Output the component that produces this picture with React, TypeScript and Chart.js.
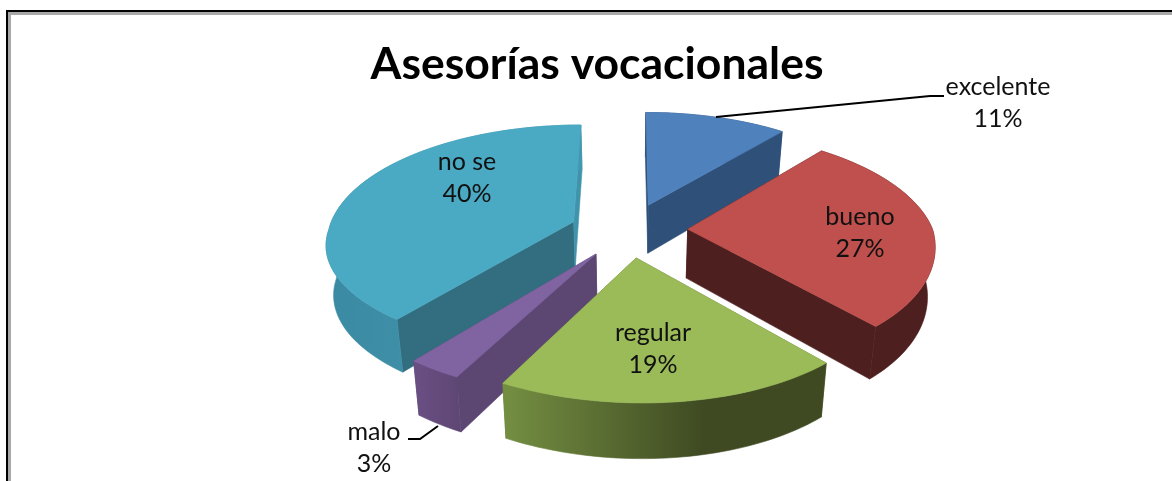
import React, { useEffect, useRef } from "react";
import { Chart, registerables } from "chart.js";

Chart.register(...registerables);

const titleText = "Asesorías vocacionales";
const categories = ["excelente", "bueno", "regular", "malo", "no se"];
const values = [11, 27, 19, 3, 40];
const topColors = ["#4f81bd", "#c0504d", "#9bbb59", "#8064a2", "#4aa9c3"];
const startWallColors = ["#2f5078", "#4e1f1f", "#5d7534", "#5c4672", "#326e80"];
const endWallColors = ["#2f5078", "#4e1f1f", "#5d7534", "#5c4672", "#3f93ab"];
const outerWallLeft = ["#2f5078", "#4e1f1f", "#748f42", "#6a4f84", "#3b8aa3"];
const outerWallRight = ["#2f5078", "#4e1f1f", "#3f4a22", "#5f4775", "#4298ae"];

// projection of the flat pie into the tilted view
const VIEW = { cx: 629, cy: 230, a: 245, b: 113.5, p: 0.15, lean: 10, tilt: 7, explode: 0.24, depth: 49, depthGrow: 0.6, depthShrink: 0.975 };

// text placement
const LABEL_AT = [
  [998, 103],
  [860, 233],
  [653, 349],
  [374, 448],
  [467, 178],
];
const LEADERS = [
  [[716, 117], [930, 96], [944, 96]],
  [[408, 439], [420, 439], [438, 426]],
];
const LABEL_FONT = "25px Lato";
const LABEL_LINE = 32;

function project(u: number, v: number, low: boolean) {
  const s = 1 / (1 - VIEW.p * v);
  const near = Math.max(v, 0);
  const shrink = low ? VIEW.depthShrink : 1;
  const x = VIEW.cx + (VIEW.a * u * s - VIEW.lean * near) * shrink;
  const y =
    VIEW.cy + VIEW.b * v * s + VIEW.tilt * u * near +
    (low ? VIEW.depth * (1 + VIEW.depthGrow * (s - 1)) : 0);
  return [x, y];
}

function tracePoly(ctx: CanvasRenderingContext2D, pts: number[][]) {
  ctx.beginPath();
  pts.forEach((p, i) => (i ? ctx.lineTo(p[0], p[1]) : ctx.moveTo(p[0], p[1])));
  ctx.closePath();
}

const pie3d = {
  id: "pie3d",
  beforeDatasetsDraw(chart: any) {
    const ctx: CanvasRenderingContext2D = chart.ctx;
    const arcs = chart.getDatasetMeta(0).data.map((el: any, i: number) => {
      const { startAngle, endAngle } = el.getProps(["startAngle", "endAngle"], true);
      const mid = (startAngle + endAngle) / 2;
      return { i, startAngle, endAngle, mid, fill: el.options.backgroundColor };
    });
    arcs.sort((m: any, n: any) => Math.sin(m.mid) - Math.sin(n.mid));
    ctx.save();
    ctx.lineJoin = "round";
    for (const arc of arcs) {
      const ou = Math.cos(arc.mid) * VIEW.explode;
      const ov = Math.sin(arc.mid) * VIEW.explode;
      const steps = Math.max(8, Math.ceil((arc.endAngle - arc.startAngle) * 40));
      const rim: number[][] = [];
      for (let k = 0; k <= steps; k++) {
        const t = arc.startAngle + ((arc.endAngle - arc.startAngle) * k) / steps;
        rim.push([ou + Math.cos(t), ov + Math.sin(t)]);
      }
      const up = rim.map((r) => project(r[0], r[1], false));
      const down = rim.map((r) => project(r[0], r[1], true));
      const apexUp = project(ou, ov, false);
      const apexDown = project(ou, ov, true);

      const paint = (pts: number[][], c: any) => {
        tracePoly(ctx, pts);
        ctx.fillStyle = c;
        ctx.strokeStyle = c;
        ctx.lineWidth = 0.6;
        ctx.fill();
        ctx.stroke();
      };
      paint([apexUp, up[0], down[0], apexDown], startWallColors[arc.i]);
      paint([apexUp, up[steps], down[steps], apexDown], endWallColors[arc.i]);
      const xs = up.map((p) => p[0]);
      const grad = ctx.createLinearGradient(Math.min(...xs), 0, Math.max(...xs), 0);
      grad.addColorStop(0, outerWallLeft[arc.i]);
      grad.addColorStop(arc.i === 2 ? 0.62 : 1, outerWallRight[arc.i]);
      grad.addColorStop(1, outerWallRight[arc.i]);
      paint([...up, ...down.slice().reverse()], grad);
      paint([apexUp, ...up], arc.fill);
    }
    ctx.restore();
    return false;
  },
  afterDraw(chart: any) {
    const ctx: CanvasRenderingContext2D = chart.ctx;
    const total = values.reduce((m, n) => m + n, 0);
    ctx.save();
    ctx.strokeStyle = "#000000";
    ctx.lineWidth = 2;
    for (const line of LEADERS) {
      ctx.beginPath();
      line.forEach((p, i) => (i ? ctx.lineTo(p[0], p[1]) : ctx.moveTo(p[0], p[1])));
      ctx.stroke();
    }
    ctx.fillStyle = "#111111";
    ctx.font = LABEL_FONT;
    ctx.textAlign = "center";
    ctx.textBaseline = "middle";
    categories.forEach((name, i) => {
      const [x, y] = LABEL_AT[i];
      ctx.fillText(name, x, y - LABEL_LINE / 2);
      ctx.fillText(`${Math.round((values[i] / total) * 100)}%`, x, y + LABEL_LINE / 2);
    });
    ctx.restore();
  },
};

export default function App() {
  const ref = useRef<HTMLCanvasElement>(null);
  useEffect(() => {
    const chart = new Chart(ref.current!, {
      type: "pie",
      data: {
        labels: categories,
        datasets: [{ data: values, backgroundColor: topColors, borderWidth: 0 }],
      },
      options: {
        responsive: false,
        animation: false,
        layout: { padding: { left: 22 } },
        plugins: {
          legend: { display: false },
          tooltip: { enabled: false },
          title: {
            display: true,
            text: titleText,
            fullSize: false,
            color: "#000000",
            font: { family: "Lato", size: 44.5, weight: "bold" },
            padding: { top: 38, bottom: 10 },
          },
        },
      },
      plugins: [pie3d],
    } as any);
    return () => chart.destroy();
  }, []);
  return (
    <div style={{ position: "absolute", left: 0, top: 0, width: 1172, height: 481, overflow: "hidden", background: "#ffffff" }}>
      <div style={{ position: "absolute", left: 6, top: 10, width: 1300, height: 600, borderTop: "2px solid #000", borderLeft: "2px solid #000" }}>
        <div style={{ position: "absolute", left: 0, top: 0, width: 1300, height: 600, borderTop: "3px solid #a8a8a8", borderLeft: "3px solid #a8a8a8" }} />
      </div>
      <canvas ref={ref} width={1172} height={481} style={{ position: "absolute", left: 0, top: 0, display: "block" }} />
    </div>
  );
}
